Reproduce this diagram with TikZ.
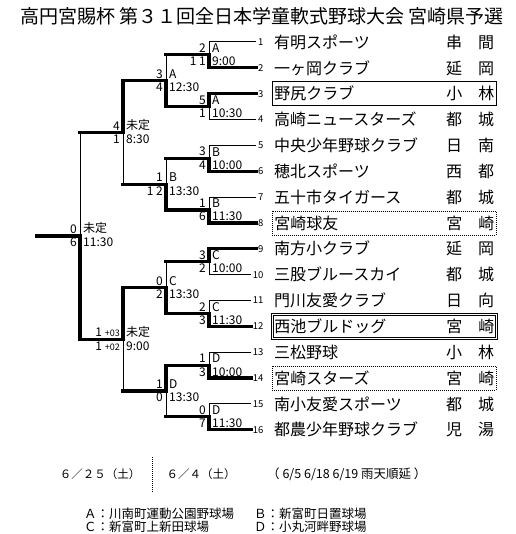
\documentclass[tikz,border=0pt]{standalone}
\usepackage{fontspec}
\setmainfont{Noto Sans CJK JP}
\usetikzlibrary{positioning}

\newcommand\matchlab[5]{%
  \node[lab, above left=1pt and 2pt of #1] (#1top) {#2};
  \node[lab, below left=1pt and 2pt of #1] (#1bot) {#3};
  \node[lab, above right=1pt and 2pt of #1] (#1ven) {#4};
  \node[lab, below right=1pt and 2pt of #1] (#1tim) {#5};}

\begin{document}
\begin{tikzpicture}[x=1pt, y=-1pt,
  lab/.style={inner sep=1pt, font=\fontsize{12}{12}\selectfont},
  num/.style={anchor=east, inner xsep=1.5pt, inner ysep=1pt, font=\fontsize{9.5}{9.5}\selectfont},
  team/.style={anchor=west, inner xsep=2pt, inner ysep=0pt, text width=220pt,
    minimum height=24pt, font=\fontsize{16}{16}\selectfont},
  boxed/.style={team, draw, line width=0.8pt},
  dotbox/.style={team, draw, line width=0.8pt, dash pattern=on 1pt off 1pt},
  dblbox/.style={team, draw, line width=0.7pt, double, double distance=1.3pt},
  wire/.style={line width=1pt},
  win/.style={line width=3.2pt, line cap=rect}]
\useasboundingbox (0,0) rectangle (515,534);
\node (title) at (262,16) {\fontsize{19}{19}\selectfont 高円宮賜杯 第３１回全日本学童軟式野球大会 宮崎県予選};
% teams
\node[team] (t1) at (272,42.0) {有明スポーツ\hspace{0pt plus 1fill}串　間\hspace*{10pt}};
\node[team] (t2) at (272,67.85) {一ヶ岡クラブ\hspace{0pt plus 1fill}延　岡\hspace*{10pt}};
\node[boxed] (t3) at (272,93.7) {野尻クラブ\hspace{0pt plus 1fill}小　林\hspace*{10pt}};
\node[team] (t4) at (272,119.55) {高崎ニュースターズ\hspace{0pt plus 1fill}都　城\hspace*{10pt}};
\node[team] (t5) at (272,145.4) {中央少年野球クラブ\hspace{0pt plus 1fill}日　南\hspace*{10pt}};
\node[team] (t6) at (272,171.25) {穂北スポーツ\hspace{0pt plus 1fill}西　都\hspace*{10pt}};
\node[team] (t7) at (272,197.1) {五十市タイガース\hspace{0pt plus 1fill}都　城\hspace*{10pt}};
\node[dotbox] (t8) at (272,222.95) {宮崎球友\hspace{0pt plus 1fill}宮　崎\hspace*{10pt}};
\node[team] (t9) at (272,248.8) {南方小クラブ\hspace{0pt plus 1fill}延　岡\hspace*{10pt}};
\node[team] (t10) at (272,274.65) {三股ブルースカイ\hspace{0pt plus 1fill}都　城\hspace*{10pt}};
\node[team] (t11) at (272,300.5) {門川友愛クラブ\hspace{0pt plus 1fill}日　向\hspace*{10pt}};
\node[dblbox] (t12) at (272,326.35) {西池ブルドッグ\hspace{0pt plus 1fill}宮　崎\hspace*{10pt}};
\node[team] (t13) at (272,352.2) {三松野球\hspace{0pt plus 1fill}小　林\hspace*{10pt}};
\node[dotbox] (t14) at (272,378.05) {宮崎スターズ\hspace{0pt plus 1fill}宮　崎\hspace*{10pt}};
\node[team] (t15) at (272,403.9) {南小友愛スポーツ\hspace{0pt plus 1fill}都　城\hspace*{10pt}};
\node[team] (t16) at (272,429.75) {都農少年野球クラブ\hspace{0pt plus 1fill}児　湯\hspace*{10pt}};
\foreach \i in {1,...,16}
  \node[num] (n\i) at (265,{42+25.85*(\i-1)}) {\i};
% rounds
\coordinate (a1) at (209,54.9);
\coordinate (a2) at (209,106.6);
\coordinate (a3) at (209,158.3);
\coordinate (a4) at (209,210.0);
\coordinate (a5) at (209,261.7);
\coordinate (a6) at (209,313.4);
\coordinate (a7) at (209,365.1);
\coordinate (a8) at (209,416.8);
\coordinate (b1) at (166,80.8);
\coordinate (b2) at (166,184.2);
\coordinate (b3) at (166,287.6);
\coordinate (b4) at (166,391.0);
\coordinate (c1) at (123,132.5);
\coordinate (c2) at (123,339.3);
\coordinate (f) at (80,235.9);
\coordinate (w) at (37,235.9);
\foreach \i/\k in {1/1,2/1,3/2,4/2,5/3,6/3,7/4,8/4,9/5,10/5,11/6,12/6,13/7,14/7,15/8,16/8}
  \draw[wire] (n\i.west) -| (a\k);
\foreach \k/\j in {1/1,2/1,3/2,4/2,5/3,6/3,7/4,8/4}
  \draw[wire] (a\k) -| (b\j);
\foreach \j/\l in {1/1,2/1,3/2,4/2}
  \draw[wire] (b\j) -| (c\l);
\draw[wire] (c1) -| (f);
\draw[wire] (c2) -| (f);
% winners
\draw[win] (n2.west) -| (a1) -- (a1 -| b1);
\draw[win] (n3.west) -| (a2) -- (a2 -| b1);
\draw[win] (n6.west) -| (a3) -- (a3 -| b2);
\draw[win] (n8.west) -| (a4) -- (a4 -| b2);
\draw[win] (n9.west) -| (a5) -- (a5 -| b3);
\draw[win] (n12.west) -| (a6) -- (a6 -| b3);
\draw[win] (n14.west) -| (a7) -- (a7 -| b4);
\draw[win] (n16.west) -| (a8) -- (a8 -| b4);
\draw[win] (a2) -| (b1) -- (b1 -| c1);
\draw[win] (a4) -| (b2) -- (b2 -| c1);
\draw[win] (a6) -| (b3) -- (b3 -| c2);
\draw[win] (a7) -| (b4) -- (b4 -| c2);
\draw[win] (b1) -| (c1) -- (c1 -| f);
\draw[win] (b3) -| (c2) -- (c2 -| f);
\draw[win] (c2) -| (f) -- (w);
% scores, grounds, times
\matchlab{a1}{2}{1 1}{A}{9:00}
\matchlab{a2}{5}{1}{A}{10:30}
\matchlab{a3}{3}{4}{B}{10:00}
\matchlab{a4}{1}{6}{B}{11:30}
\matchlab{a5}{3}{2}{C}{10:00}
\matchlab{a6}{2}{3}{C}{11:30}
\matchlab{a7}{1}{3}{D}{10:00}
\matchlab{a8}{0}{7}{D}{11:30}
\matchlab{b1}{3}{4}{A}{12:30}
\matchlab{b2}{1}{1 2}{B}{13:30}
\matchlab{b3}{0}{2}{C}{13:30}
\matchlab{b4}{1}{0}{D}{13:30}
\matchlab{c1}{4}{1}{未定}{8:30}
\matchlab{c2}{1 {\fontsize{9}{9}\selectfont +03}}{1 {\fontsize{9}{9}\selectfont +02}}{未定}{9:00}
\matchlab{f}{0}{6}{未定}{11:30}
% dates
\node[lab, font=\fontsize{11.5}{11.5}\selectfont] (day2) at (100,474) {６／２５（土）};
\node[lab, font=\fontsize{11.5}{11.5}\selectfont] (day1) at (201,474) {６／４（土）};
\node[lab, anchor=west, font=\fontsize{12.5}{12.5}\selectfont] (rain) at (266,474) {（ 6/5 6/18 6/19 雨天順延 ）};
\coordinate (sepT) at (152,457);
\coordinate (sepB) at (152,493);
\draw[wire, dash pattern=on 1pt off 1pt] (sepT) -- (sepB);
% grounds
\node[lab, anchor=west, font=\fontsize{12.5}{12.5}\selectfont] (gA) at (83,514) {Ａ：川南町運動公園野球場};
\node[lab, anchor=west, font=\fontsize{12.5}{12.5}\selectfont] (gB) at (253,514) {Ｂ：新富町日置球場};
\node[lab, anchor=west, font=\fontsize{12.5}{12.5}\selectfont] (gC) at (83,527) {Ｃ：新富町上新田球場};
\node[lab, anchor=west, font=\fontsize{12.5}{12.5}\selectfont] (gD) at (253,527) {Ｄ：小丸河畔野球場};
\end{tikzpicture}
\end{document}
